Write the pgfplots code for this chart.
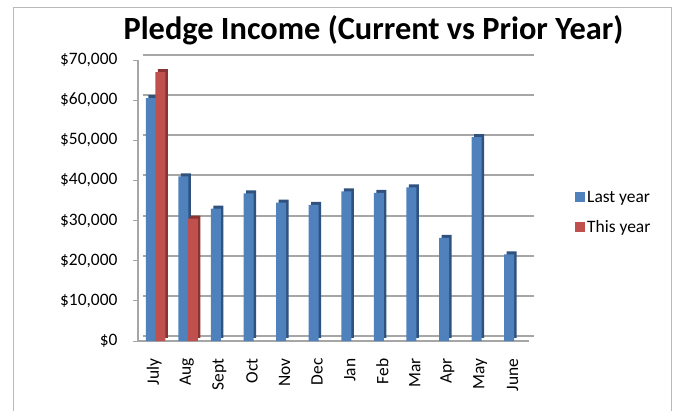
\documentclass[border=0pt]{standalone}
\usepackage{fontspec}
\setmainfont{Carlito}
\usepackage{pgfplots}
\pgfplotsset{compat=1.18}
\definecolor{lyblue}{HTML}{4F81BD}
\definecolor{lyblueD}{HTML}{30527F}
\definecolor{tyred}{HTML}{C0504D}
\definecolor{tyredD}{HTML}{8A3330}
\definecolor{gridc}{HTML}{A6A6A6}
\begin{document}
\begin{tikzpicture}
\path[use as bounding box] (0bp,0bp) rectangle (675bp,411bp);
\clip (0bp,0bp) rectangle (675bp,411bp);
\draw[gray!55, line width=0.8bp] (13bp,404bp) rectangle (671bp,-20bp);
\node[anchor=base, font=\fontsize{32.5}{38}\selectfont\bfseries] at (373.5bp,371bp) {Pledge Income (Current vs Prior Year)};
\begin{axis}[
  at={(138bp,70bp)}, anchor=south west, scale only axis,
  width=391bp, height=281bp,
  xmin=-0.5, xmax=11.5, ymin=0, ymax=70000,
  clip=false,
  scaled y ticks=false,
  axis lines=left,
  axis line style={-, draw=gridc, line width=1.5bp},
  tick align=outside,
  xtick={0,...,11},
  xticklabels={July,Aug,Sept,Oct,Nov,Dec,Jan,Feb,Mar,Apr,May,June},
  xtick style={draw=none},
  minor xtick={-0.5,0.5,...,11.5},
  minor tick length=6bp,
  minor tick style={draw=gridc, line width=1bp},
  ytick={0,10000,...,70000},
  yticklabels={{\$0},{\$10,000},{\$20,000},{\$30,000},{\$40,000},{\$50,000},{\$60,000},{\$70,000}},
  major tick length=5bp,
  ytick style={draw=gridc, line width=1bp},
  ymajorgrids,
  major grid style={draw=gridc, line width=2bp, xshift=5bp, yshift=5bp},
  ticklabel style={font=\fontsize{17.5}{20}\selectfont},
  xticklabel style={rotate=90, anchor=east},
  xticklabel shift=9bp,
  yticklabel shift=12bp,
  legend style={draw=none, fill=none, at={(1,0.457)}, anchor=west, xshift=43bp,
    font=\fontsize{17.5}{20}\selectfont, row sep=13bp, cells={anchor=west}},
]
\addplot[ybar, bar width=10bp, bar shift=-1bp, fill=lyblueD, draw=none, yshift=3bp, forget plot]
  coordinates {(0,60500) (1,41000) (2,33000) (3,36800) (4,34500) (5,33900) (6,37300) (7,36900) (8,38300) (9,25700) (10,50800) (11,21600)};
\addplot[ybar, bar width=10bp, bar shift=-3.5bp, fill=lyblue, draw=none,
  legend image code/.code={\fill[lyblue] (0bp,-5bp) rectangle (10bp,5bp);}]
  coordinates {(0,60500) (1,41000) (2,33000) (3,36800) (4,34500) (5,33900) (6,37300) (7,36900) (8,38300) (9,25700) (10,50800) (11,21600)};
\addlegendentry{Last year}
\addplot[ybar, bar width=10bp, bar shift=8.5bp, fill=tyredD, draw=none, yshift=3bp, forget plot]
  coordinates {(0,67000) (1,30500)};
\addplot[ybar, bar width=10bp, bar shift=6bp, fill=tyred, draw=none,
  legend image code/.code={\fill[tyred] (0bp,-5bp) rectangle (10bp,5bp);}]
  coordinates {(0,67000) (1,30500)};
\addlegendentry{This year}
\end{axis}
\end{tikzpicture}
\end{document}
